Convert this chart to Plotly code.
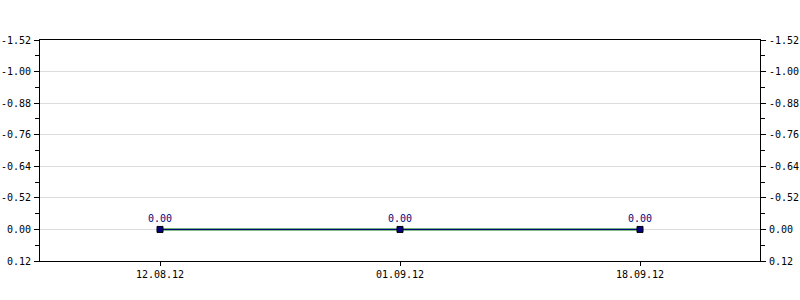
import plotly.graph_objects as go

dates = ["12.08.12", "01.09.12", "18.09.12"]
values = [0.00, 0.00, 0.00]
value_labels = ["0.00", "0.00", "0.00"]
y_tick_labels = ["0.12", "0.00", "-0.52", "-0.64", "-0.76", "-0.88", "-1.00", "-1.52"]

step = 0.12
y_tick_vals = [0.12 - step * i for i in range(len(y_tick_labels))]
y_range = [y_tick_vals[0], y_tick_vals[-1]]

font_family = "DejaVu Sans Mono"
navy = "#000080"
green = "#008000"

fig = go.Figure()
fig.add_trace(go.Scatter(
    x=dates, y=values, mode="lines",
    line=dict(color=green, width=2), hoverinfo="skip", showlegend=False,
))
fig.add_trace(go.Scatter(
    x=dates, y=values, mode="lines+markers+text",
    line=dict(color=navy, width=1),
    marker=dict(symbol="square", size=6, color=navy, line=dict(color="black", width=1)),
    text=value_labels, textposition="top center",
    textfont=dict(family=font_family, size=10, color=navy),
    showlegend=False,
))
fig.add_trace(go.Scatter(
    x=dates, y=values, yaxis="y2", mode="lines", opacity=0,
    hoverinfo="skip", showlegend=False,
))

axis_common = dict(
    range=y_range,
    tickmode="array", tickvals=y_tick_vals, ticktext=y_tick_labels,
    ticks="outside", ticklen=5, tickcolor="black", tickwidth=1,
    showline=True, linecolor="black", linewidth=1,
    tickfont=dict(family=font_family, size=10, color="black"),
    zeroline=False, automargin=False, ticklabelstandoff=1,
    minor=dict(ticks="outside", ticklen=4, tickcolor="black", tick0=0.12, dtick=step / 2, showgrid=False),
)

fig.update_layout(
    width=800, height=300,
    margin=dict(l=40, r=40, t=40, b=39, autoexpand=False),
    paper_bgcolor="white", plot_bgcolor="white",
    font=dict(family=font_family, size=10, color="black"),
    xaxis=dict(
        type="category", range=[-0.5, 2.5],
        ticks="outside", ticklen=4, tickcolor="black",
        showline=True, linecolor="black", linewidth=1, mirror=True,
        showgrid=False, zeroline=False, automargin=False,
        tickfont=dict(family=font_family, size=10, color="black"),
    ),
    yaxis=dict(side="left", showgrid=True, gridcolor="#dcdcdc", gridwidth=1, **axis_common),
    yaxis2=dict(side="right", overlaying="y", anchor="x", showgrid=False, **axis_common),
)

fig.write_html("out.html")
